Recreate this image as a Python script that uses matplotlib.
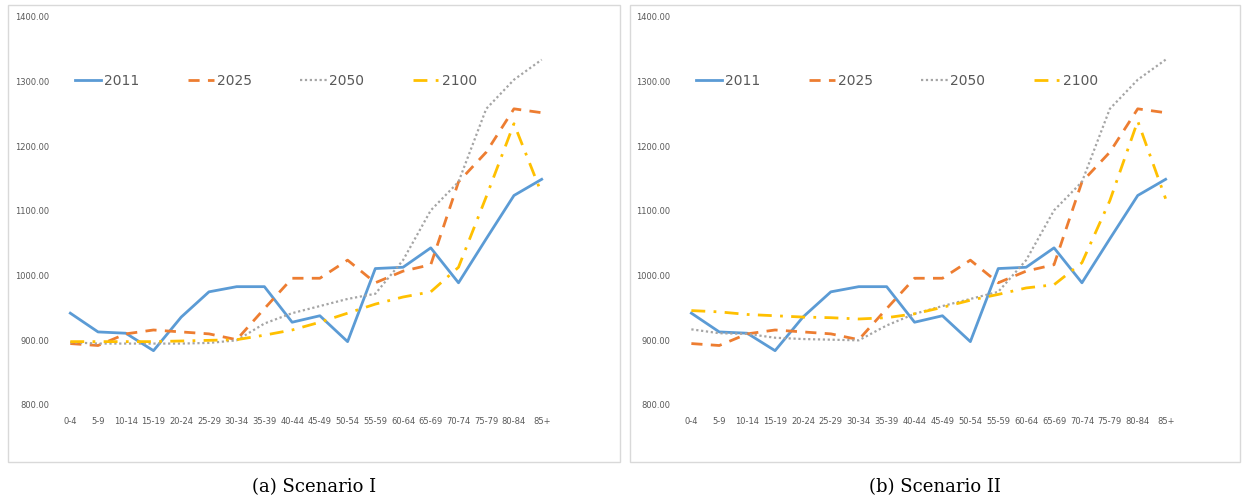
import matplotlib
matplotlib.use("Agg")
import matplotlib.pyplot as plt
from matplotlib.patches import Rectangle

ages = ["0-4","5-9","10-14","15-19","20-24","25-29","30-34","35-39","40-44","45-49",
        "50-54","55-59","60-64","65-69","70-74","75-79","80-84","85+"]
s2011 = [942,913,911,884,936,975,983,983,928,938,898,1011,1013,1043,989,1057,1124,1149]
s2025 = [895,892,910,916,913,910,901,949,996,996,1024,989,1007,1017,1145,1191,1258,1252]
s2050_I = [897,895,895,895,895,896,900,926,942,953,964,972,1024,1101,1145,1258,1303,1334]
s2100_I = [898,898,898,898,899,900,901,908,916,928,942,956,967,975,1013,1122,1235,1127]
s2050_II = [917,911,910,904,902,901,900,923,941,953,964,975,1024,1101,1145,1258,1303,1334]
s2100_II = [946,944,940,938,936,935,933,935,941,951,962,971,981,986,1020,1116,1239,1119]
captions = ["(a) Scenario I", "(b) Scenario II"]

W, H = 1244, 500
fig = plt.figure(figsize=(W/100, H/100), dpi=100)

def panel(x0, x1, box, s2050, s2100, cap):
    fig.add_artist(Rectangle((box[0]/W, 1-462/H), (box[1]-box[0])/W, 457/H,
                             transform=fig.transFigure, fill=False, ec="#d9d9d9", lw=1))
    ax = fig.add_axes([x0/W, 1-405/H, (x1-x0)/W, 388/H])
    x = range(len(ages))
    ax.plot(x, s2011, color="#5b9bd5", lw=2.0, label="2011")
    ax.plot(x, s2025, color="#ed7d31", lw=2.0, ls=(0, (4, 3)), label="2025")
    ax.plot(x, s2050, color="#a5a5a5", lw=1.6, ls=(0, (1, 1.2)), label="2050")
    ax.plot(x, s2100, color="#ffc000", lw=2.0, ls=(0, (5, 3, 1, 3)), label="2100")
    ax.set_xlim(-0.3, 17.3)
    ax.set_ylim(800, 1400)
    ax.set_yticks(range(800, 1401, 100))
    ax.set_yticklabels([f"{v:.2f}" for v in range(800, 1401, 100)])
    ax.set_xticks(list(x))
    ax.set_xticklabels(ages)
    ax.tick_params(length=0, labelsize=6, colors="#595959", pad=9)
    for s in ax.spines.values():
        s.set_visible(False)
    ax.legend(loc="upper left", bbox_to_anchor=(0.0, 0.885), ncol=4, frameon=False,
              fontsize=10, handlelength=1.9, columnspacing=3.5, handletextpad=0.2,
              labelcolor="#595959")
    fig.text((box[0]+box[1])/2/W, 1-487/H, cap, ha="center", va="center",
             fontsize=13, family="DejaVu Serif")

panel(62, 550, (8, 620), s2050_I, s2100_I, captions[0])
panel(683, 1174, (630, 1240), s2050_II, s2100_II, captions[1])
fig.savefig("out.png", dpi=100, facecolor="white")
